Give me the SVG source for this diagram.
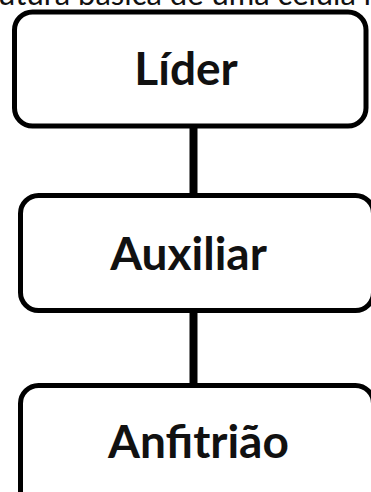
<svg xmlns="http://www.w3.org/2000/svg" width="371" height="492" viewBox="0 0 371 492">
<style>
.box{fill:#fff;stroke:#000;stroke-width:5}
.lbl{font-family:Lato,"Open Sans","Liberation Sans",sans-serif;font-weight:bold;font-size:46px;fill:#111;text-anchor:middle}
.title{font-family:Lato,"Liberation Sans",sans-serif;font-size:31px;fill:#111}
.conn{stroke:#000;stroke-width:8;fill:none}
</style>
<rect width="371" height="492" fill="#fff"/>
<text class="title" x="-2" y="5">utura básica de uma célula no</text>
<g id="connectors">
<line class="conn" x1="193.5" y1="126" x2="193.5" y2="196"/>
<line class="conn" x1="193.5" y1="311" x2="193.5" y2="386"/>
</g>
<g id="lider">
<rect class="box" x="14.5" y="12" width="351.5" height="114" rx="18"/>
<text class="lbl" x="186" y="85">Líder</text>
</g>
<g id="auxiliar">
<rect class="box" x="20.5" y="195.5" width="353" height="115" rx="18"/>
<text class="lbl" x="188.5" y="270">Auxiliar</text>
</g>
<g id="anfitriao">
<rect class="box" x="20.5" y="385.5" width="353" height="130" rx="18"/>
<text class="lbl" x="198.5" y="458">Anfitrião</text>
</g>
</svg>
